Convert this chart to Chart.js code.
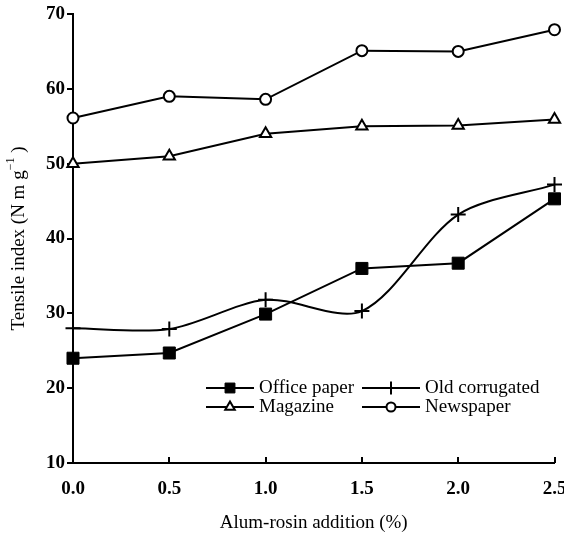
<!DOCTYPE html>
<html>
<head>
<meta charset="utf-8">
<title>Tensile index vs alum-rosin addition</title>
<script src="https://cdn.jsdelivr.net/npm/chart.js@4.4.1/dist/chart.umd.min.js"></script>
<style>
  html,body{margin:0;padding:0;background:#fff}
  #wrap{width:564px;height:540px;position:relative}
</style>
</head>
<body>
<div id="wrap"><canvas id="c" width="564" height="540"></canvas></div>
<script>
/* ─── DATA ──────────────────────────────────────────── */
const X_VALUES=[0,0.5,1.0,1.5,2.0,2.5];
const OFFICE_PAPER=[24.0,24.7,29.9,36.0,36.7,45.3];
const MAGAZINE=[50.0,51.0,54.0,55.0,55.1,55.9];
const OLD_CORRUGATED=[28.0,27.9,31.8,30.3,43.2,47.2];
const NEWSPAPER=[56.1,59.0,58.6,65.1,65.0,67.9];
const Y_MIN=10,Y_MAX=70,Y_STEP=10;
const X_MIN=0,X_MAX=2.5,X_STEP=0.5;
const X_TITLE='Alum-rosin addition (%)';
const Y_TITLE='Tensile index (N m g';

const SERIF="'Liberation Serif','Times New Roman',serif";
const pts=arr=>X_VALUES.map((x,i)=>({x,y:arr[i]}));

/* ─── PLUGINS ───────────────────────────────────────── */
// x ticks point up into the plot, axis titles, legend box inside the plot
const decor={
  id:'decor',
  afterDraw(chart){
    const ctx=chart.ctx,xs=chart.scales.x,ca=chart.chartArea;
    ctx.save();
    ctx.strokeStyle='#000';ctx.lineWidth=2;
    for(let v=X_MIN;v<=X_MAX+1e-9;v+=X_STEP){
      const px=Math.round(xs.getPixelForValue(v));
      ctx.beginPath();ctx.moveTo(px,ca.bottom);ctx.lineTo(px,ca.bottom-6);ctx.stroke();
    }
    // x title
    ctx.fillStyle='#000';
    ctx.font='19px '+SERIF;ctx.textAlign='center';ctx.textBaseline='middle';
    ctx.fillText(X_TITLE,(ca.left+ca.right)/2,523);
    // y title, rotated, with superscript
    ctx.translate(19,(ca.top+ca.bottom)/2);ctx.rotate(-Math.PI/2);
    ctx.font='19px '+SERIF;
    const w1=ctx.measureText(Y_TITLE).width;
    ctx.font='12px '+SERIF;const w2=ctx.measureText('−1').width;
    ctx.font='19px '+SERIF;const w3=ctx.measureText(' )').width;
    let sx=-(w1+w2+w3)/2;
    ctx.textAlign='left';
    ctx.fillText(Y_TITLE,sx,0);sx+=w1;
    ctx.font='12px '+SERIF;ctx.fillText('−1',sx,-8);sx+=w2;
    ctx.font='19px '+SERIF;ctx.fillText(' )',sx,0);
    ctx.setTransform(1,0,0,1,0,0);
    // legend: [dataset, line start, line length, row y]
    const cells=[[0,206,48,388],[2,362,58,388],[1,206,48,407],[3,362,58,407]];
    cells.forEach(([di,lx,len,ly])=>{
      const ds=chart.data.datasets[di];
      ctx.strokeStyle='#000';ctx.lineWidth=2;
      ctx.beginPath();ctx.moveTo(lx,ly);ctx.lineTo(lx+len,ly);ctx.stroke();
      ctx.fillStyle=ds.pointBackgroundColor;ctx.strokeStyle='#000';ctx.lineWidth=ds.pointBorderWidth;
      Chart.helpers.drawPoint(ctx,{pointStyle:ds.pointStyle,radius:ds.legendRadius,rotation:0,borderWidth:ds.pointBorderWidth},lx+len/2,ly);
      ctx.fillStyle='#000';ctx.font='19px '+SERIF;ctx.textAlign='left';ctx.textBaseline='middle';
      ctx.fillText(ds.label,lx+len+5,ly);
    });
    ctx.restore();
  }
};

/* ─── CHART ─────────────────────────────────────────── */
const base={borderColor:'#000',borderWidth:2,pointBorderColor:'#000',clip:false,tension:0};
new Chart(document.getElementById('c').getContext('2d'),{
  type:'line',
  data:{datasets:[
    {...base,label:'Office paper',data:pts(OFFICE_PAPER),pointStyle:'rect',pointRadius:8.5,legendRadius:7,pointBackgroundColor:'#000',pointBorderWidth:1},
    {...base,label:'Magazine',data:pts(MAGAZINE),pointStyle:'triangle',pointRadius:6.5,legendRadius:5.5,pointBackgroundColor:'#fff',pointBorderWidth:2},
    {...base,label:'Old corrugated',data:pts(OLD_CORRUGATED),pointStyle:'cross',pointRadius:7.5,legendRadius:6.5,pointBackgroundColor:'#000',pointBorderWidth:2,tension:0.3},
    {...base,label:'Newspaper',data:pts(NEWSPAPER),pointStyle:'circle',pointRadius:5.5,legendRadius:4.5,pointBackgroundColor:'#fff',pointBorderWidth:2}
  ]},
  options:{
    responsive:false,animation:false,
    layout:{padding:{top:14,right:7,left:0,bottom:0}},
    plugins:{legend:{display:false},tooltip:{enabled:false}},
    scales:{
      x:{type:'linear',min:X_MIN,max:X_MAX,
        ticks:{stepSize:X_STEP,color:'#000',padding:7,maxRotation:0,autoSkip:false,
          font:{family:SERIF,size:19,weight:'bold'},callback:v=>Number(v).toFixed(1)},
        grid:{display:false},
        border:{display:true,color:'#000',width:2},
        afterFit(s){s.height=77;s.paddingLeft=0;s.paddingRight=0;}},
      y:{min:Y_MIN,max:Y_MAX,
        ticks:{stepSize:Y_STEP,color:'#000',padding:2,font:{family:SERIF,size:19,weight:'bold'}},
        grid:{drawOnChartArea:false,drawTicks:true,tickLength:6,tickColor:'#000',tickWidth:2,lineWidth:2},
        border:{display:true,color:'#000',width:2},
        afterFit(s){s.width=73;s.paddingTop=0;s.paddingBottom=0;}}
    }
  },
  plugins:[decor]
});
</script>
</body>
</html>
